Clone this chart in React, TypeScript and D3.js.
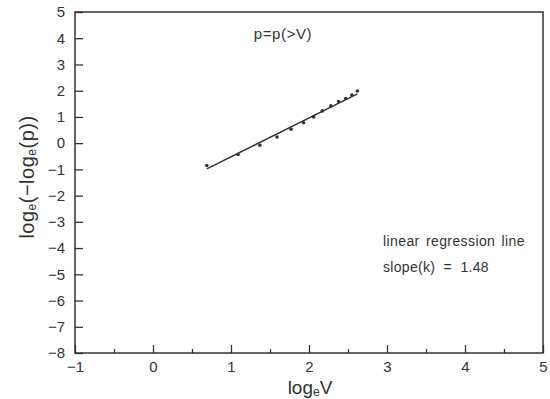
import { useEffect, useRef } from 'react';
import * as d3 from 'd3';

// points (x = loge V, y = loge(-loge p))
const logV = [0.69, 1.09, 1.37, 1.59, 1.77, 1.93, 2.06, 2.17, 2.28, 2.38, 2.47, 2.55, 2.62];
const logLogP = [-0.85, -0.43, -0.08, 0.23, 0.53, 0.78, 1.0, 1.23, 1.42, 1.59, 1.7, 1.83, 1.99];

const slope = 1.48;
const intercept = -2.0;

const xTicks = [-1, 0, 1, 2, 3, 4, 5];
const yTicks = [5, 4, 3, 2, 1, 0, -1, -2, -3, -4, -5, -6, -7, -8];

const App = () => {
  const svgRef = useRef<SVGSVGElement>(null);

  useEffect(() => {
    const width = 550;
    const height = 399;
    const margin = { top: 12, right: 7, bottom: 46, left: 75 };
    const font = 'Liberation Sans, Arial, sans-serif';
    const ink = '#333';

    const svg = d3.select(svgRef.current);
    svg.selectAll('*').remove();
    svg.attr('width', width).attr('height', height);

    svg.append('rect').attr('width', width).attr('height', height).attr('fill', '#fff');

    const innerWidth = width - margin.left - margin.right;
    const innerHeight = height - margin.top - margin.bottom;

    const chart = svg.append('g')
      .attr('transform', `translate(${margin.left},${margin.top})`);

    const x = d3.scaleLinear().domain([-1, 5]).range([0, innerWidth]);
    const y = d3.scaleLinear().domain([-8, 5]).range([innerHeight, 0]);

    // frame
    chart.append('rect')
      .attr('width', innerWidth)
      .attr('height', innerHeight)
      .attr('fill', 'none')
      .attr('stroke', ink)
      .attr('stroke-width', 1.5);

    // X axis: major ticks at integers, minor at halves, drawn inward
    const xAxis = chart.append('g')
      .attr('transform', `translate(0,${innerHeight})`)
      .call(d3.axisBottom(x).tickValues(xTicks).tickSize(-8).tickPadding(8).tickFormat(d => d3.format('d')(d as number).replace('-', '\u2212')));
    xAxis.select('.domain').remove();
    xAxis.selectAll('line').attr('stroke', ink).attr('stroke-width', 1.3);
    xAxis.selectAll('text').attr('font-family', font).attr('font-size', 15).attr('fill', ink);

    const minor = chart.append('g')
      .attr('transform', `translate(0,${innerHeight})`)
      .call(d3.axisBottom(x).tickValues(d3.range(-0.5, 5, 1)).tickSize(-4).tickFormat(() => ''));
    minor.select('.domain').remove();
    minor.selectAll('line').attr('stroke', ink).attr('stroke-width', 1.3);

    // Y axis
    const yAxis = chart.append('g')
      .call(d3.axisLeft(y).tickValues(yTicks).tickSize(-8).tickPadding(10).tickFormat(d => d3.format('d')(d as number).replace('-', '\u2212')));
    yAxis.select('.domain').remove();
    yAxis.selectAll('line').attr('stroke', ink).attr('stroke-width', 1.3);
    yAxis.selectAll('text').attr('font-family', font).attr('font-size', 15).attr('fill', ink);

    // regression line
    const xr = d3.extent(logV) as [number, number];
    chart.append('line')
      .attr('x1', x(xr[0]))
      .attr('y1', y(slope * xr[0] + intercept))
      .attr('x2', x(xr[1]))
      .attr('y2', y(slope * xr[1] + intercept))
      .attr('stroke', ink)
      .attr('stroke-width', 1.4);

    // points
    chart.selectAll('.pt')
      .data(logV)
      .enter()
      .append('circle')
      .attr('cx', d => x(d))
      .attr('cy', (d, i) => y(logLogP[i]))
      .attr('r', 1.8)
      .attr('fill', ink);

    // annotations
    svg.append('text')
      .attr('x', 283).attr('y', 39)
      .attr('text-anchor', 'middle')
      .attr('font-family', font).attr('font-size', 15).attr('fill', ink)
      .attr('letter-spacing', 0.6)
      .text('p=p(>V)');

    svg.append('text')
      .attr('x', 383).attr('y', 246)
      .attr('font-family', font).attr('font-size', 14).attr('fill', ink)
      .attr('letter-spacing', 0.4)
      .attr('word-spacing', 2)
      .text('linear regression line');

    svg.append('text')
      .attr('x', 383).attr('y', 272)
      .attr('font-family', font).attr('font-size', 14).attr('fill', ink)
      .attr('letter-spacing', 0.3)
      .attr('xml:space', 'preserve')
      .text(`slope(k)  =  ${slope.toFixed(2)}`);

    // axis titles
    const xt = svg.append('text')
      .attr('x', 310).attr('y', 394)
      .attr('text-anchor', 'middle')
      .attr('font-family', font).attr('font-size', 19).attr('fill', ink);
    xt.append('tspan').text('log');
    xt.append('tspan').attr('font-size', 12).attr('dy', 2).text('e');
    xt.append('tspan').attr('dy', -2).text('V');

    const yt = svg.append('text')
      .attr('transform', 'translate(34,177) rotate(-90)')
      .attr('text-anchor', 'middle')
      .attr('font-family', font).attr('font-size', 20).attr('fill', ink)
      .attr('letter-spacing', 0.5);
    yt.append('tspan').text('log');
    yt.append('tspan').attr('font-size', 12).attr('dy', 2).text('e');
    yt.append('tspan').attr('dy', -2).text('(\u2212log');
    yt.append('tspan').attr('font-size', 12).attr('dy', 2).text('e');
    yt.append('tspan').attr('dy', -2).text('(p))');
  }, []);

  return <svg ref={svgRef} style={{ position: 'absolute', left: 0, top: 0 }}></svg>;
};

export default App;
